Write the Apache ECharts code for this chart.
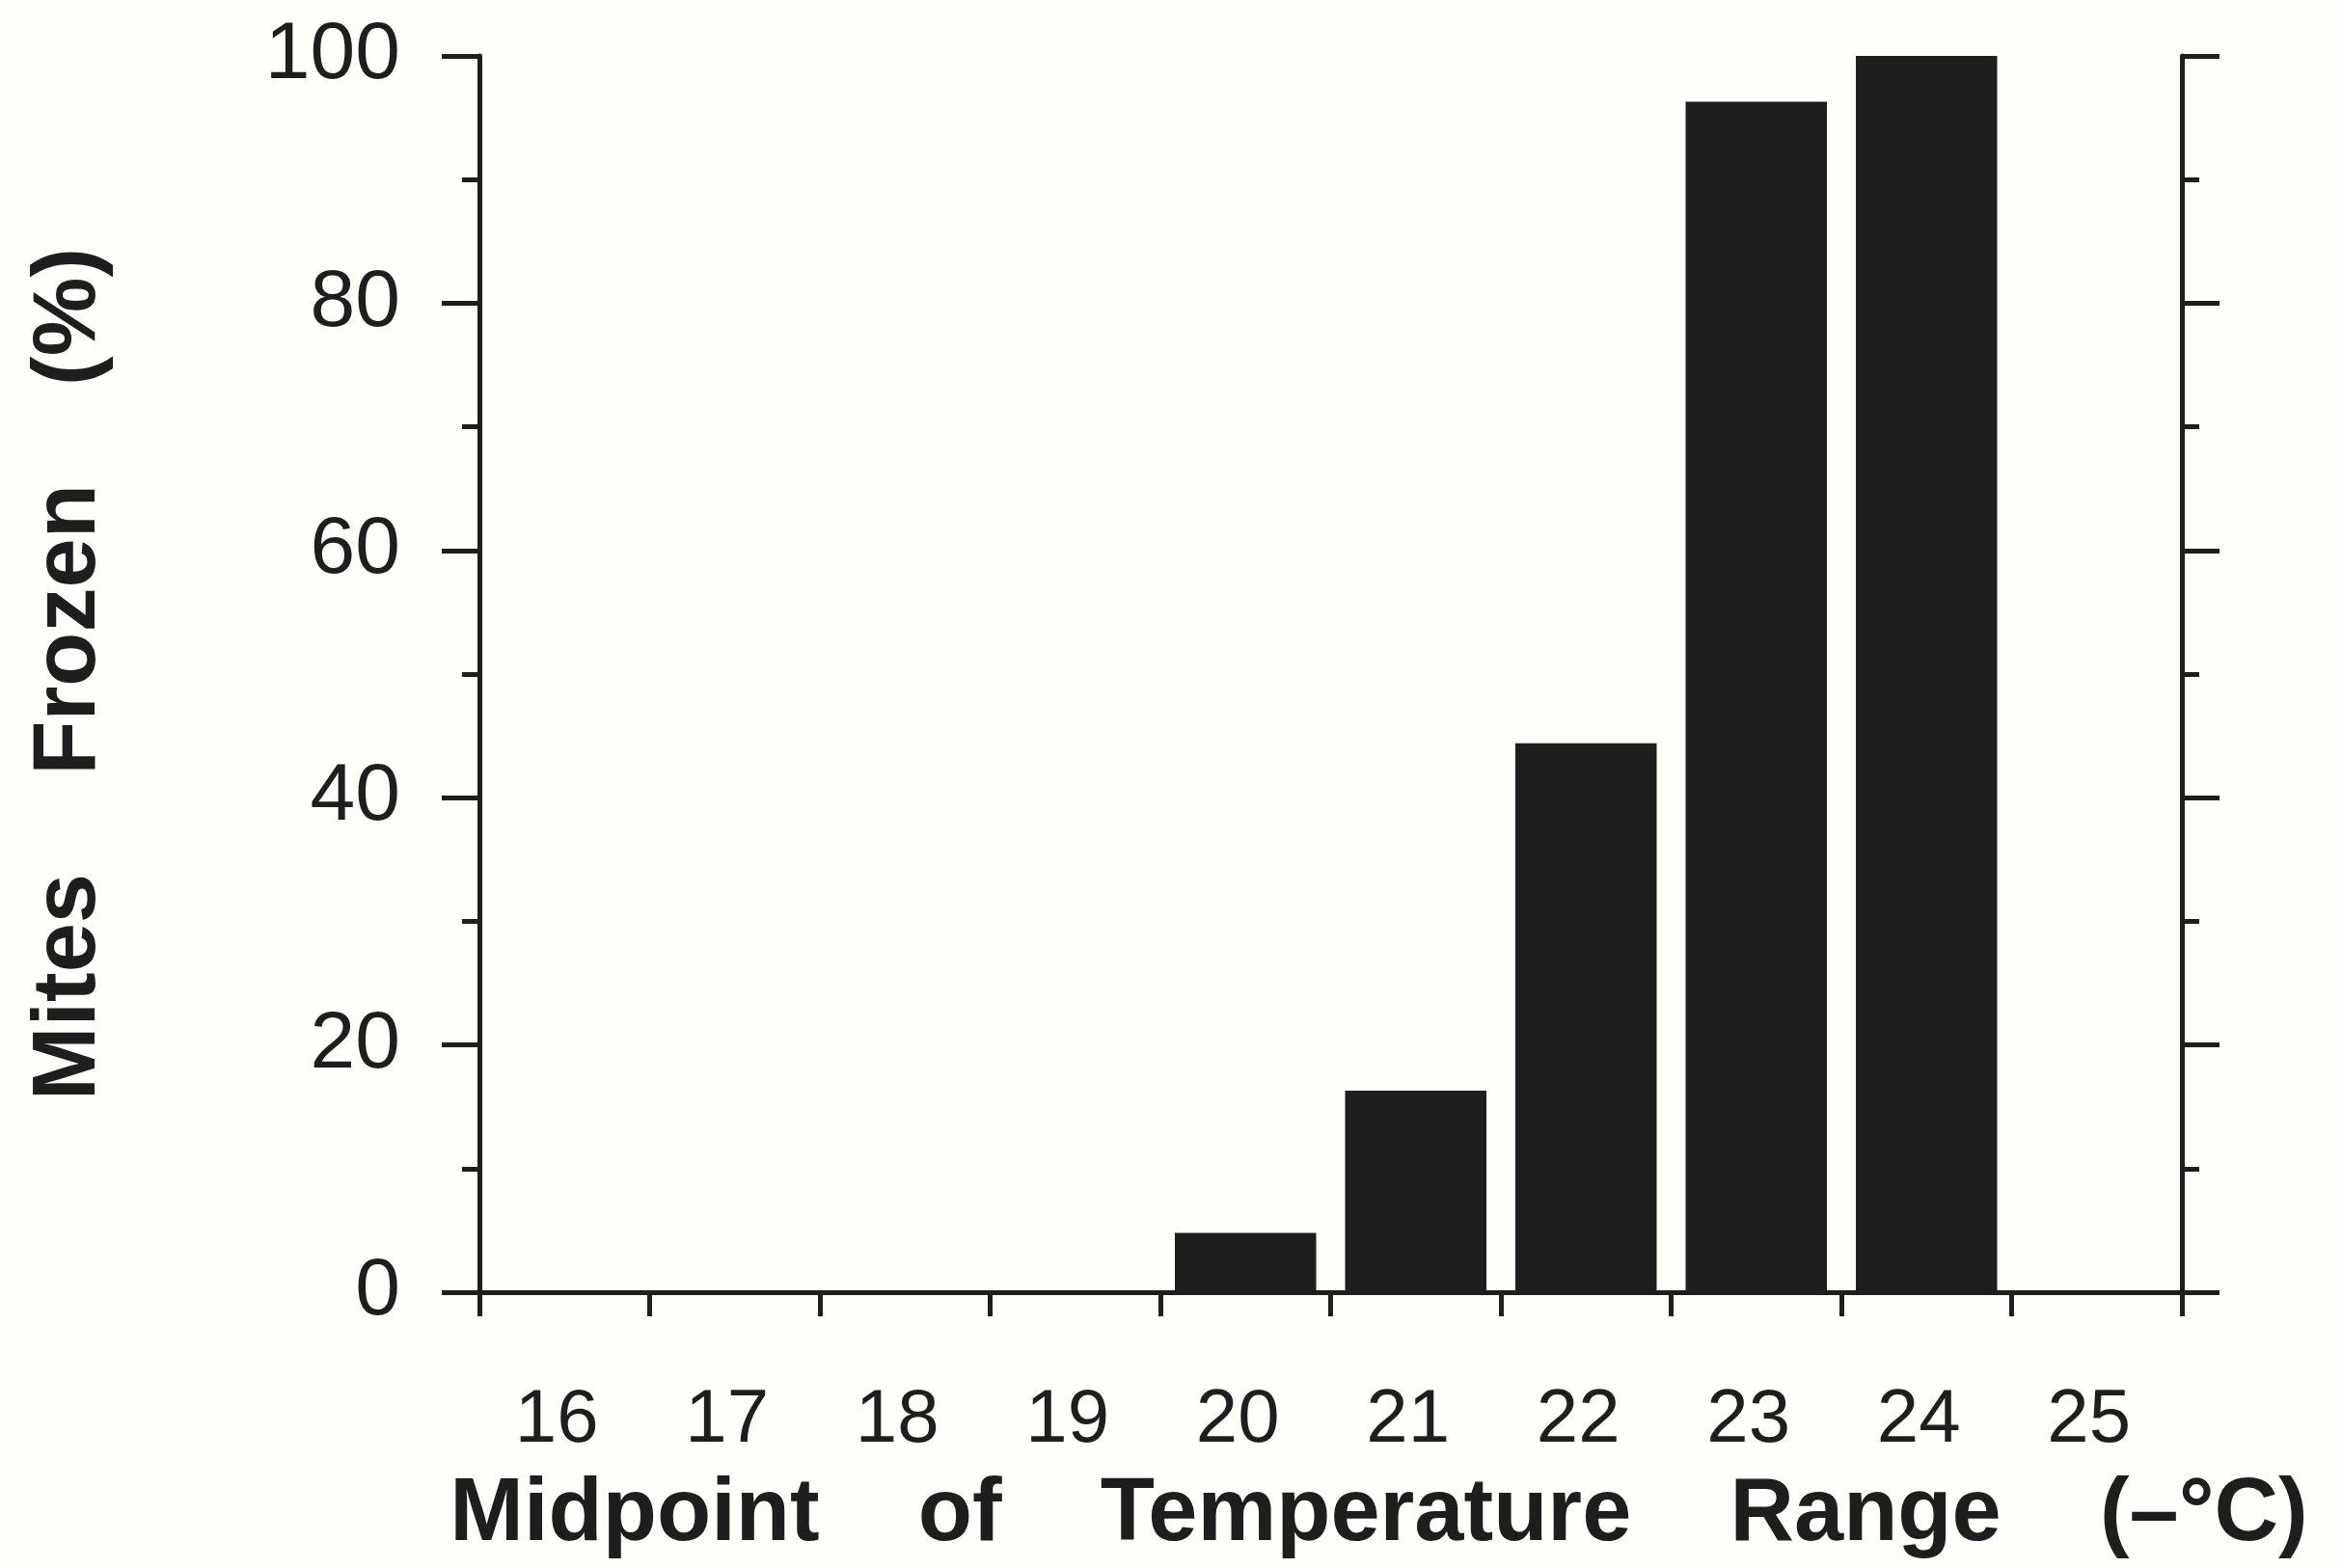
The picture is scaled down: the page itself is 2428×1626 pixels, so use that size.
<!DOCTYPE html>
<html><head><meta charset="utf-8">
<script src="https://cdn.jsdelivr.net/npm/echarts@6/dist/echarts.min.js"></script>
<style>html,body{margin:0;padding:0;background:#fefefa;}#c{width:2428px;height:1626px;}</style>
</head><body><div id="c"></div>
<script>
const categories = ['16','17','18','19','20','21','22','23','24','25'];
const frozenPct = [0, 0, 0, 0, 4.8, 16.3, 44.4, 96.3, 100, 0];
const yTicks = {min: 0, max: 100, interval: 20};
const gap = '\u00a0\u00a0\u00a0\u00a0';
const xTitle = ['Midpoint', 'of', 'Temperature', 'Range', '(\u2013\u00b0C)'].join(gap);
const yTitle = ['Mites', 'Frozen', '(%)'].join(gap);

const ink = '#1e1e1e';
const font = 'Liberation Sans, Arial, sans-serif';
const chart = echarts.init(document.getElementById('c'), null, {renderer: 'canvas'});
const lineStyle = {color: ink, width: 5};
chart.setOption({
  backgroundColor: '#fefefa',
  animation: false,
  grid: {left: 497, right: 166, top: 58, bottom: 286, containLabel: false},
  xAxis: [{
    type: 'category', data: categories, position: 'bottom',
    axisLine: {show: true, lineStyle: lineStyle},
    axisTick: {show: true, length: 25, lineStyle: {color: ink, width: 5}},
    axisLabel: {margin: 94, fontSize: 78, color: ink, fontFamily: font, padding: [0, 16, 0, 0]},
    name: xTitle, nameLocation: 'middle', nameGap: 186,
    nameTextStyle: {fontSize: 92, fontWeight: 'bold', color: ink, fontFamily: font, padding: [0, 0, 0, 100]},
    splitLine: {show: false}
  }, {
    type: 'category', data: categories, position: 'top',
    axisLine: {show: true, lineStyle: lineStyle},
    axisTick: {show: false}, axisLabel: {show: false}, splitLine: {show: false}
  }],
  yAxis: [{
    type: 'value', position: 'left', min: yTicks.min, max: yTicks.max, interval: yTicks.interval,
    axisLine: {show: true, lineStyle: lineStyle},
    axisTick: {show: true, length: 39, lineStyle: {color: ink, width: 5}},
    minorTick: {show: true, splitNumber: 2, length: 18, lineStyle: {color: ink, width: 5}},
    axisLabel: {margin: 82, fontSize: 84, color: ink, fontFamily: font, padding: [18, 0, 0, 0]},
    splitLine: {show: false},
    name: yTitle, nameLocation: 'middle', nameGap: 378, nameRotate: 90,
    nameTextStyle: {fontSize: 92, fontWeight: 'bold', color: ink, fontFamily: font}
  }, {
    type: 'value', position: 'right', min: yTicks.min, max: yTicks.max, interval: yTicks.interval,
    axisLine: {show: true, lineStyle: lineStyle},
    axisTick: {show: true, length: 39, lineStyle: {color: ink, width: 5}},
    minorTick: {show: true, splitNumber: 2, length: 18, lineStyle: {color: ink, width: 5}},
    axisLabel: {show: false}, splitLine: {show: false}
  }],
  series: [{
    type: 'bar', data: frozenPct, xAxisIndex: 0, yAxisIndex: 0,
    barCategoryGap: '17%',
    itemStyle: {color: ink}
  }]
});
</script></body></html>
